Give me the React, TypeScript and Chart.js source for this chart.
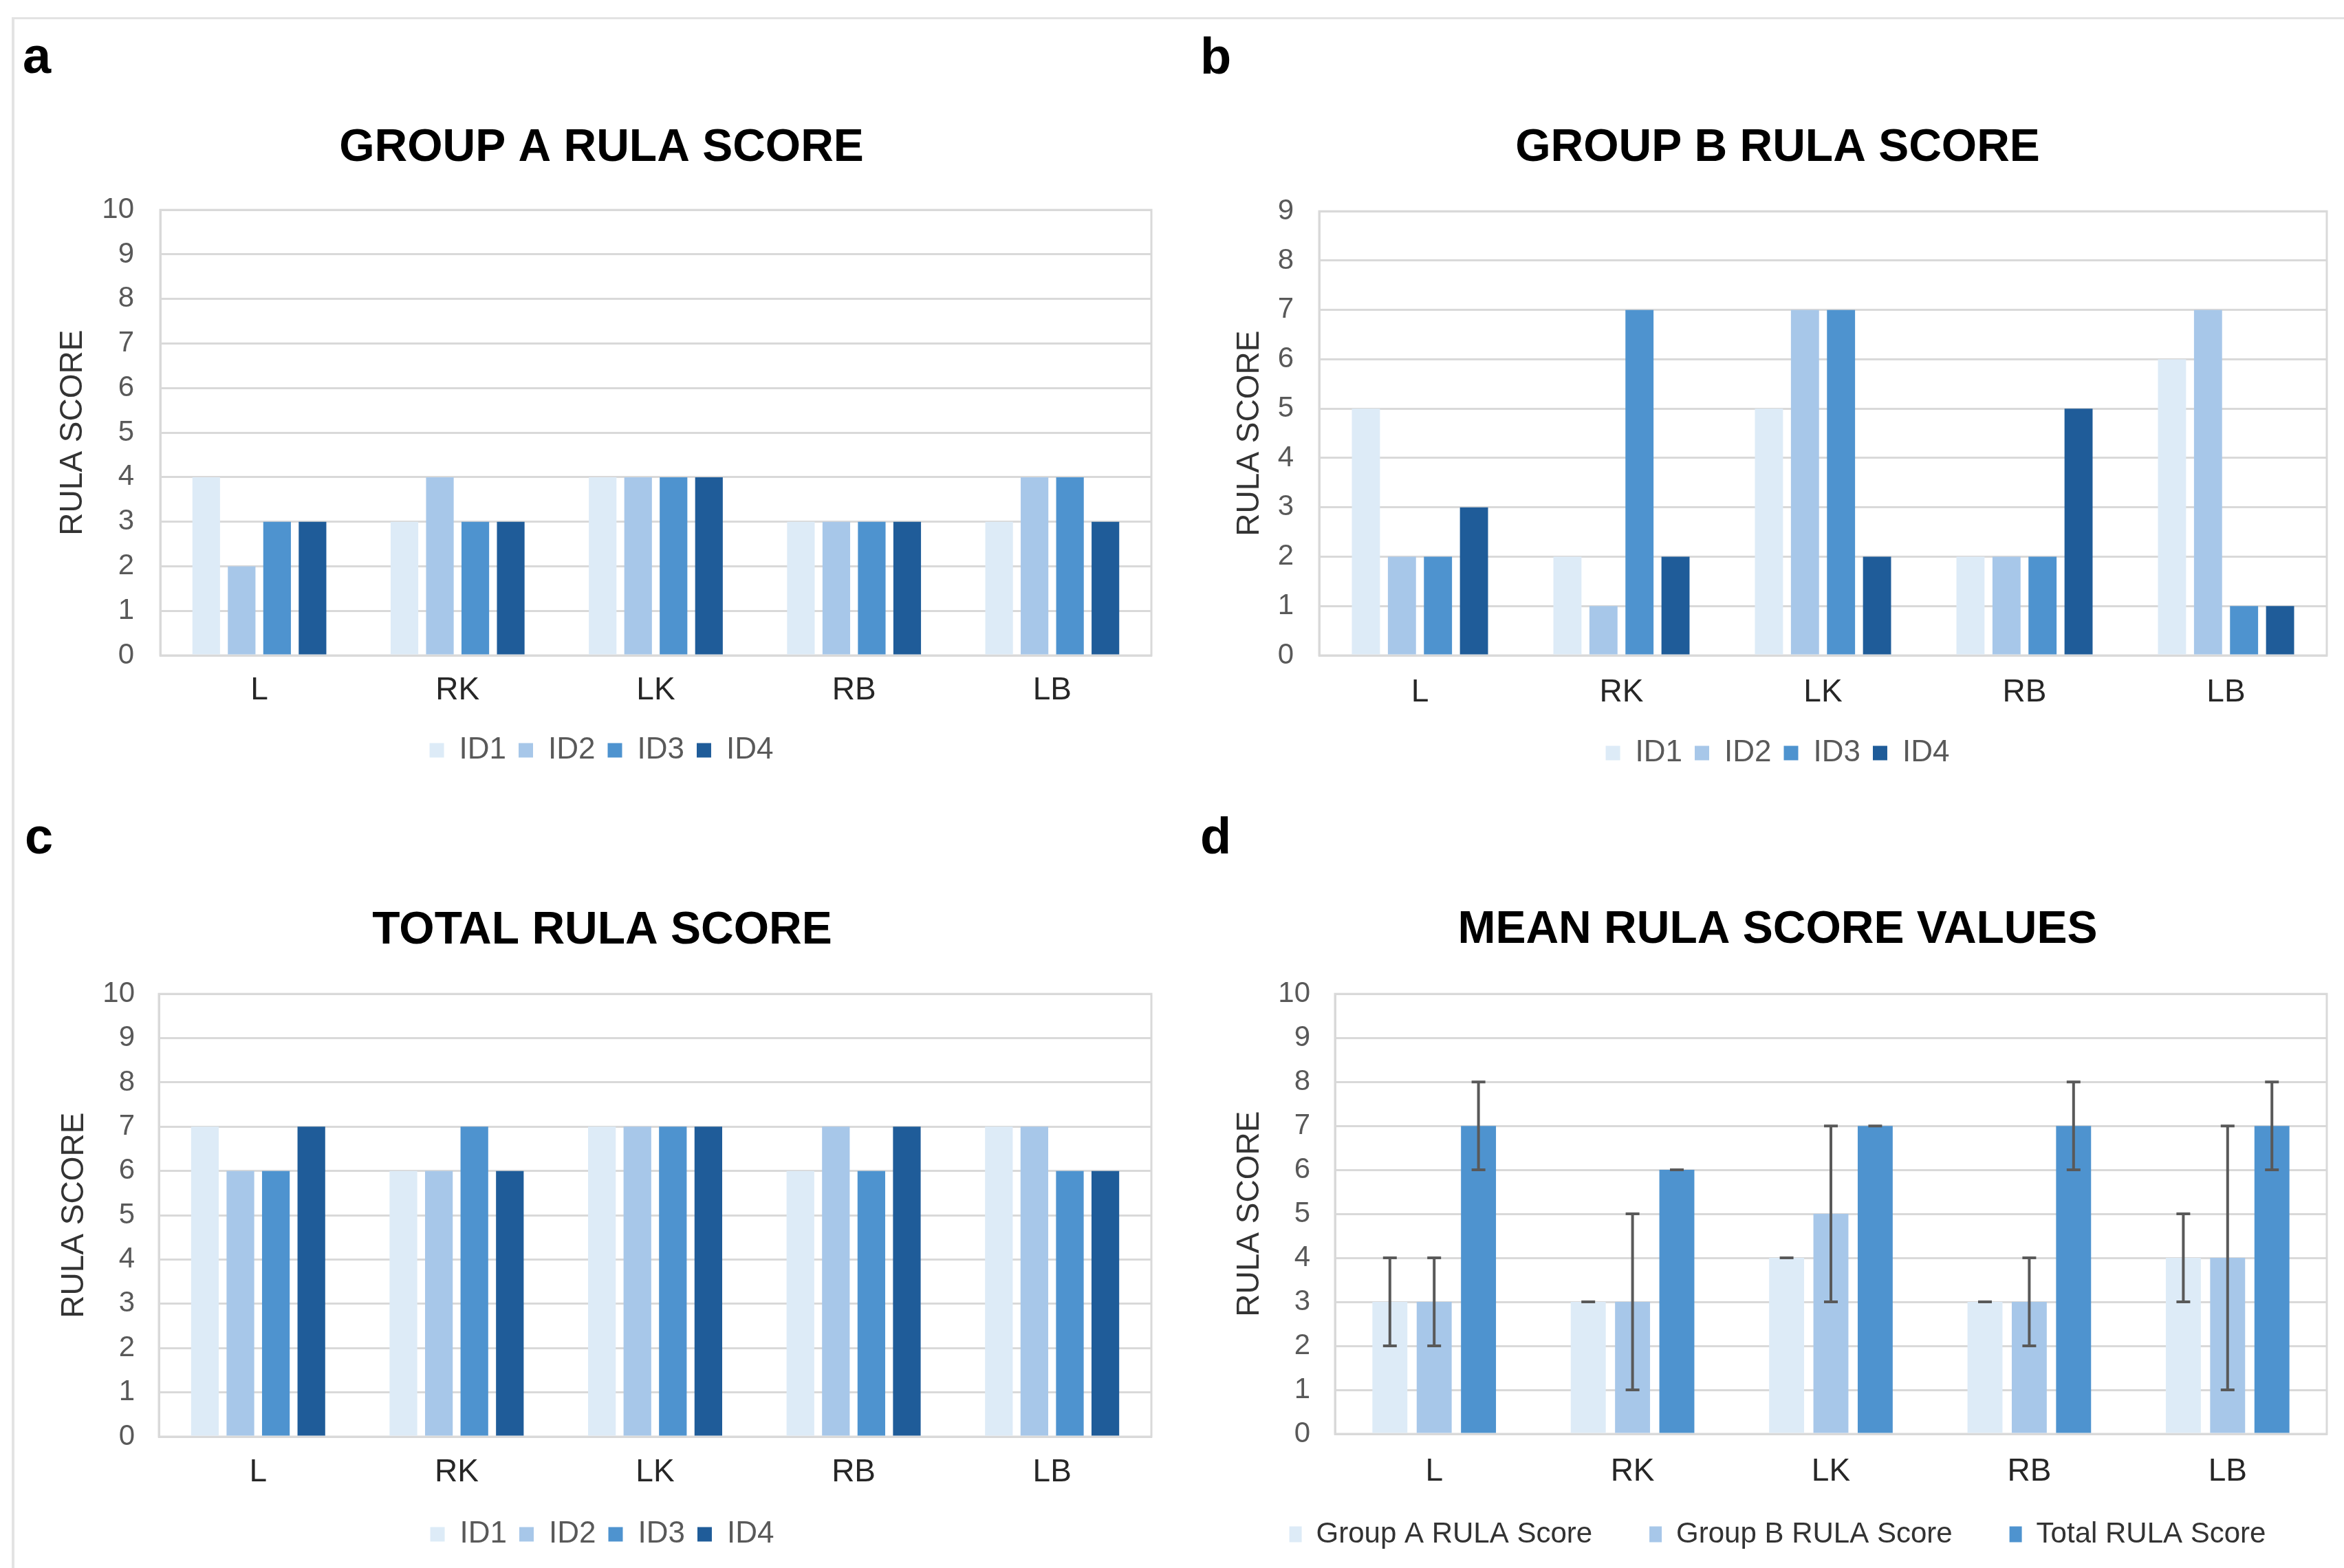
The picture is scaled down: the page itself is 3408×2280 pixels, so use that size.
import React, { useEffect, useRef } from 'react';
import { Chart, registerables } from 'chart.js';

Chart.register(...registerables);
Chart.defaults.font.family = "'Liberation Sans', Arial, sans-serif";

// ---------- data ----------
const CATEGORIES = ['L', 'RK', 'LK', 'RB', 'LB'];
const ID_LABELS = ['ID1', 'ID2', 'ID3', 'ID4'];

const GROUP_A_ID1 = [4, 3, 4, 3, 3];
const GROUP_A_ID2 = [2, 4, 4, 3, 4];
const GROUP_A_ID3 = [3, 3, 4, 3, 4];
const GROUP_A_ID4 = [3, 3, 4, 3, 3];

const GROUP_B_ID1 = [5, 2, 5, 2, 6];
const GROUP_B_ID2 = [2, 1, 7, 2, 7];
const GROUP_B_ID3 = [2, 7, 7, 2, 1];
const GROUP_B_ID4 = [3, 2, 2, 5, 1];

const TOTAL_ID1 = [7, 6, 7, 6, 7];
const TOTAL_ID2 = [6, 6, 7, 7, 7];
const TOTAL_ID3 = [6, 7, 7, 6, 6];
const TOTAL_ID4 = [7, 6, 7, 7, 6];

const MEAN_LABELS = ['Group A RULA Score', 'Group B RULA Score', 'Total RULA Score'];
const MEAN_A = [3, 3, 4, 3, 4];
const MEAN_B = [3, 3, 5, 3, 4];
const MEAN_TOTAL = [7, 6, 7, 7, 7];
const ERR_A_LOW = [2, 3, 4, 3, 3];
const ERR_A_HIGH = [4, 3, 4, 3, 5];
const ERR_B_LOW = [2, 1, 3, 2, 1];
const ERR_B_HIGH = [4, 5, 7, 4, 7];
const ERR_T_LOW = [6, 6, 7, 6, 6];
const ERR_T_HIGH = [8, 6, 7, 8, 8];

const Y_MAX_A = 10;
const Y_MAX_B = 9;
const Y_MAX_C = 10;
const Y_MAX_D = 10;

// ---------- styles ----------
const COLORS = ['#DDEBF7', '#A7C7E9', '#4E93CF', '#1F5C99'];
const GRID = '#D9D9D9';

const plotBorderPlugin = {
  id: 'plotBorder',
  beforeDatasetsDraw(chart: any) {
    const { ctx, chartArea } = chart;
    ctx.save();
    ctx.strokeStyle = GRID;
    ctx.lineWidth = 3;
    ctx.strokeRect(chartArea.left, chartArea.top, chartArea.right - chartArea.left, chartArea.bottom - chartArea.top);
    ctx.restore();
  },
};

const errorBarPlugin = {
  id: 'errorBars',
  afterDatasetsDraw(chart: any) {
    const { ctx } = chart;
    const yScale = chart.scales.y;
    chart.data.datasets.forEach((ds: any, i: number) => {
      if (!ds.errLow || !ds.errHigh) return;
      const meta = chart.getDatasetMeta(i);
      meta.data.forEach((bar: any, j: number) => {
        const x = bar.x;
        const yLo = yScale.getPixelForValue(ds.errLow[j]);
        const yHi = yScale.getPixelForValue(ds.errHigh[j]);
        ctx.save();
        ctx.strokeStyle = '#595959';
        ctx.lineWidth = 4;
        ctx.beginPath();
        ctx.moveTo(x, yLo);
        ctx.lineTo(x, yHi);
        ctx.moveTo(x - 10, yLo);
        ctx.lineTo(x + 10, yLo);
        ctx.moveTo(x - 10, yHi);
        ctx.lineTo(x + 10, yHi);
        ctx.stroke();
        ctx.restore();
      });
    });
  },
};

// moves the legend block vertically after layout (used where the legend overlaps the axis band)
const legendShiftPlugin = {
  id: 'legendShift',
  afterLayout(chart: any, _args: any, opts: any) {
    const lg = chart.legend;
    const dy = opts && opts.dy ? opts.dy : 0;
    const extend = opts && opts.extend ? opts.extend : 0;
    if (lg && (dy || extend)) {
      lg.top += dy;
      lg.bottom += dy + extend;
      lg.height = lg.bottom - lg.top;
    }
  },
};

type Spec = {
  left: number; top: number; width: number; height: number;
  title: string; yMax: number;
  datasets: any[];
  pad: { left: number; right: number; top: number; bottom: number };
  yAxisWidth: number; yTickPad: number; titlePadBottom: number;
  xTickPad: number; xAxisHeight: number;
  legendFont: number; boxW: number; boxH: number; legendPad: number; legendColor: string;
  legendMaxHeight?: number; legendDy?: number; legendExtend?: number;
  barPct: number; catPct: number;
};

function idDatasets(series: number[][]) {
  return series.map((vals, i) => ({
    label: ID_LABELS[i],
    data: vals,
    backgroundColor: COLORS[i],
    borderWidth: 0,
  }));
}

function buildConfig(s: Spec): any {
  return {
    type: 'bar',
    data: {
      labels: CATEGORIES,
      datasets: s.datasets.map((d) => ({ ...d, barPercentage: s.barPct, categoryPercentage: s.catPct })),
    },
    plugins: [plotBorderPlugin, errorBarPlugin, legendShiftPlugin],
    options: {
      responsive: false,
      animation: false,
      devicePixelRatio: 1,
      layout: { padding: s.pad },
      plugins: {
        tooltip: { enabled: false },
        legendShift: { dy: s.legendDy || 0, extend: s.legendExtend || 0 },
        title: {
          display: true,
          text: s.title,
          color: '#000',
          font: { size: 66, weight: 'bold' },
          padding: { top: 0, bottom: s.titlePadBottom },
        },
        legend: {
          display: true,
          position: 'bottom',
          maxHeight: s.legendMaxHeight,
          labels: {
            boxWidth: s.boxW,
            boxHeight: s.boxH,
            padding: s.legendPad,
            color: s.legendColor,
            font: { size: s.legendFont },
          },
        },
      },
      scales: {
        x: {
          grid: { display: false },
          border: { display: true, color: GRID, width: 3 },
          ticks: { color: '#262626', font: { size: 46 }, padding: s.xTickPad },
          afterFit: (sc: any) => { sc.height = s.xAxisHeight; },
        },
        y: {
          min: 0,
          max: s.yMax,
          ticks: { stepSize: 1, color: '#595959', font: { size: 42 }, padding: s.yTickPad },
          grid: { color: GRID, lineWidth: 3, drawTicks: false },
          border: { display: true, color: GRID, width: 3 },
          title: {
            display: true,
            text: 'RULA SCORE',
            color: '#333',
            font: { size: 46 },
            padding: { top: 4, bottom: 4 },
          },
          afterFit: (sc: any) => { sc.width = s.yAxisWidth; },
        },
      },
    },
  };
}

function ChartPanel({ spec }: { spec: Spec }) {
  const ref = useRef<HTMLCanvasElement>(null);
  useEffect(() => {
    if (!ref.current) return;
    const chart = new Chart(ref.current, buildConfig(spec));
    return () => chart.destroy();
  }, []);
  return (
    <div style={{ position: 'absolute', left: spec.left, top: spec.top, width: spec.width, height: spec.height }}>
      <canvas ref={ref} width={spec.width} height={spec.height} style={{ display: 'block', width: spec.width, height: spec.height }} />
    </div>
  );
}

const specA: Spec = {
  left: 18, top: 30, width: 1722, height: 1110,
  title: 'GROUP A RULA SCORE', yMax: Y_MAX_A,
  datasets: idDatasets([GROUP_A_ID1, GROUP_A_ID2, GROUP_A_ID3, GROUP_A_ID4]),
  pad: { left: 57, right: 66, top: 146, bottom: 17 },
  yAxisWidth: 158, yTickPad: 38, titlePadBottom: 50,
  xTickPad: 16, xAxisHeight: 98,
  legendFont: 44, boxW: 21, boxH: 21, legendPad: 18, legendColor: '#595959',
  barPct: 0.78, catPct: 0.715,
};

const specB: Spec = {
  left: 1760, top: 30, width: 1648, height: 1110,
  title: 'GROUP B RULA SCORE', yMax: Y_MAX_B,
  datasets: idDatasets([GROUP_B_ID1, GROUP_B_ID2, GROUP_B_ID3, GROUP_B_ID4]),
  pad: { left: 26, right: 25, top: 146, bottom: 13 },
  yAxisWidth: 132, yTickPad: 37, titlePadBottom: 52,
  xTickPad: 19, xAxisHeight: 102,
  legendFont: 44, boxW: 21, boxH: 21, legendPad: 18, legendColor: '#595959',
  barPct: 0.78, catPct: 0.715,
};

const specC: Spec = {
  left: 18, top: 1160, width: 1722, height: 1120,
  title: 'TOTAL RULA SCORE', yMax: Y_MAX_C,
  datasets: idDatasets([TOTAL_ID1, TOTAL_ID2, TOTAL_ID3, TOTAL_ID4]),
  pad: { left: 59, right: 66, top: 154, bottom: 17 },
  yAxisWidth: 154, yTickPad: 35, titlePadBottom: 52,
  xTickPad: 17, xAxisHeight: 102,
  legendFont: 44, boxW: 21, boxH: 21, legendPad: 18, legendColor: '#595959',
  barPct: 0.78, catPct: 0.715,
};

const specD: Spec = {
  left: 1760, top: 1160, width: 1648, height: 1120,
  title: 'MEAN RULA SCORE VALUES', yMax: Y_MAX_D,
  datasets: [
    { label: MEAN_LABELS[0], data: MEAN_A, backgroundColor: COLORS[0], borderWidth: 0, errLow: ERR_A_LOW, errHigh: ERR_A_HIGH },
    { label: MEAN_LABELS[1], data: MEAN_B, backgroundColor: COLORS[1], borderWidth: 0, errLow: ERR_B_LOW, errHigh: ERR_B_HIGH },
    { label: MEAN_LABELS[2], data: MEAN_TOTAL, backgroundColor: COLORS[2], borderWidth: 0, errLow: ERR_T_LOW, errHigh: ERR_T_HIGH },
  ],
  pad: { left: 26, right: 25, top: 153, bottom: 15 },
  yAxisWidth: 155, yTickPad: 36, titlePadBottom: 53,
  xTickPad: 20, xAxisHeight: 80,
  legendFont: 42, boxW: 18, boxH: 23, legendPad: 83, legendColor: '#333',
  legendMaxHeight: 100, legendDy: -38, legendExtend: 60,
  barPct: 0.79, catPct: 0.67,
};

const labelStyle = (left: number, top: number): React.CSSProperties => ({
  position: 'absolute', left, top, fontFamily: "'Liberation Sans', Arial, sans-serif",
  fontWeight: 'bold', fontSize: 74, lineHeight: 1, color: '#000',
});

export default function App() {
  return (
    <div style={{ position: 'fixed', left: 0, top: 0, width: 3408, height: 2280, background: '#fff', overflow: 'hidden' }}>
      <div style={{ position: 'absolute', left: 17, top: 25, width: 3391, height: 2255, borderTop: '3px solid #E3E3E3', borderLeft: '4px solid #E3E3E3', boxSizing: 'border-box' }} />
      <ChartPanel spec={specA} />
      <ChartPanel spec={specB} />
      <ChartPanel spec={specC} />
      <ChartPanel spec={specD} />
      <div style={labelStyle(33, 44)}>a</div>
      <div style={labelStyle(1745, 45)}>b</div>
      <div style={labelStyle(36, 1179)}>c</div>
      <div style={labelStyle(1745, 1179)}>d</div>
    </div>
  );
}
